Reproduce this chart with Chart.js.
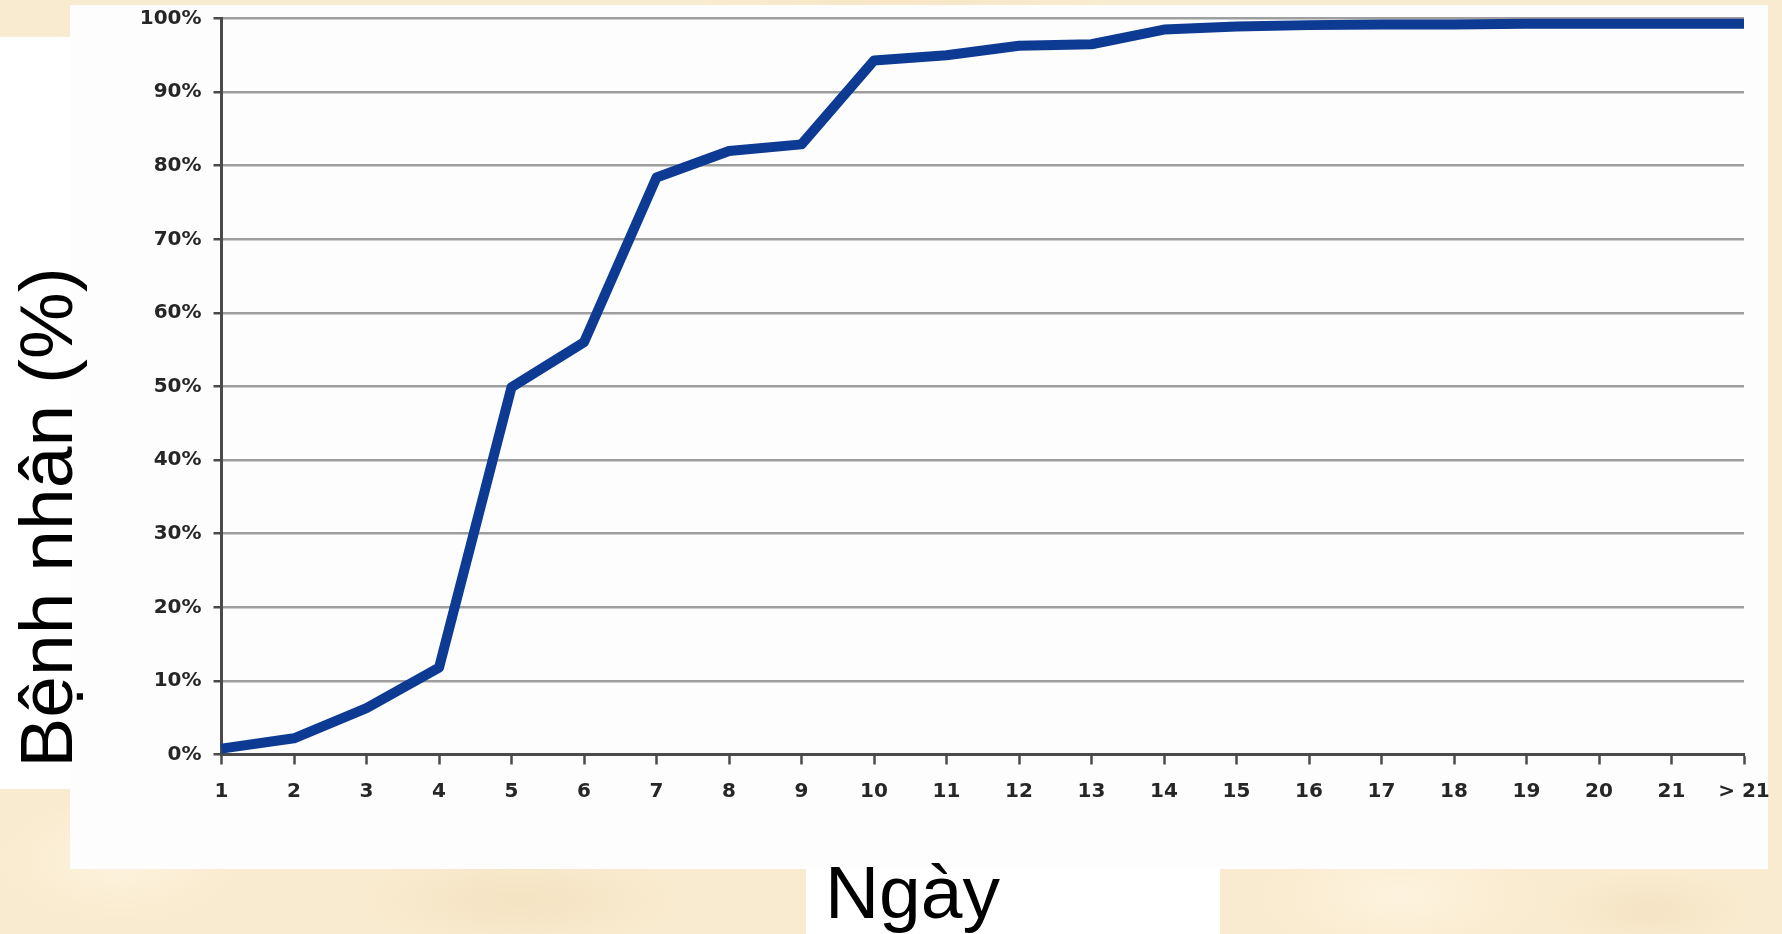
<!DOCTYPE html>
<html>
<head>
<meta charset="utf-8">
<script src="https://cdn.jsdelivr.net/npm/chart.js@4.4.1/dist/chart.umd.min.js"></script>
<style>
  html, body { margin: 0; padding: 0; }
  body {
    width: 1782px; height: 934px; overflow: hidden; position: relative;
    background-color: #f9ebcf;
    background-image:
      radial-gradient(ellipse 120px 60px at 120px 860px, rgba(255,246,228,0.7), rgba(255,246,228,0)),
      radial-gradient(ellipse 160px 50px at 520px 900px, rgba(240,222,186,0.6), rgba(240,222,186,0)),
      radial-gradient(ellipse 140px 60px at 1400px 895px, rgba(255,246,228,0.7), rgba(255,246,228,0)),
      radial-gradient(ellipse 100px 40px at 1650px 910px, rgba(242,224,190,0.6), rgba(242,224,190,0)),
      radial-gradient(ellipse 200px 8px at 900px 2px, rgba(244,226,192,0.6), rgba(244,226,192,0));
    font-family: "Liberation Sans", Arial, sans-serif;
  }
  .panel { position: absolute; background: #ffffff; }
  #mainPanel { left: 70px; top: 5px; width: 1698px; height: 864px; background: #fdfdfd; }
  #leftPanel { left: 0; top: 37px; width: 70px; height: 752px; }
  #bottomPanel { left: 806px; top: 869px; width: 414px; height: 65px; }
  .bigText {
    position: absolute; font-family: "Liberation Sans", Arial, sans-serif;
    font-size: 75px; line-height: 75px; height: 75px; color: #000; white-space: nowrap; text-align: center;
  }
  #yTitle { left: -254px; top: 479.5px; width: 600px; transform: rotate(-90deg); transform-origin: 50% 50%; }
  #xTitle { left: 812.5px; top: 854.5px; width: 200px; }
  #wrap { position: absolute; left: 0; top: 0; width: 1782px; height: 934px; }
</style>
</head>
<body>
<div class="panel" id="mainPanel"></div>
<div class="panel" id="leftPanel"></div>
<div class="panel" id="bottomPanel"></div>
<div class="bigText" id="yTitle">Bệnh nhân (%)</div>
<div class="bigText" id="xTitle">Ngày</div>
<div id="wrap"><canvas id="c" width="1782" height="934"></canvas></div>
<script>
// Categories (days)
const dayLabels = ['1','2','3','4','5','6','7','8','9','10','11','12','13','14','15','16','17','18','19','20','21','> 21'];
// Cumulative share of patients (%)
const patientPercent = [0.8, 2.2, 6.3, 11.8, 49.9, 56.0, 78.4, 82.0, 82.9, 94.3, 95.0, 96.3, 96.5, 98.5, 98.9, 99.1, 99.2, 99.2, 99.3, 99.3, 99.3, 99.3];
// Y tick values
const yTickValues = [0, 10, 20, 30, 40, 50, 60, 70, 80, 90, 100];

const tickFont = { family: "'DejaVu Sans', 'Liberation Sans', Arial, sans-serif", size: 20, weight: 'bold' };

new Chart(document.getElementById('c'), {
  type: 'line',
  data: {
    labels: dayLabels,
    datasets: [{
      data: patientPercent,
      borderColor: '#0d3a92',
      borderWidth: 10,
      pointRadius: 0,
      tension: 0,
      borderJoinStyle: 'round',
      fill: false,
      clip: false
    }]
  },
  options: {
    responsive: false,
    animation: false,
    events: [],
    layout: { padding: { left: 0, top: 18.5, right: 38, bottom: 0 } },
    plugins: { legend: { display: false }, tooltip: { enabled: false }, title: { display: false } },
    scales: {
      x: {
        type: 'category',
        offset: false,
        grid: { drawOnChartArea: false, drawTicks: true, tickLength: 10, tickColor: '#4a4a4a', tickWidth: 2.5 },
        border: { display: true, color: '#4a4a4a', width: 3 },
        ticks: { font: tickFont, color: '#262626', padding: 15, maxRotation: 0, autoSkip: false },
        afterFit: (scale) => { scale.height = 934 - 754.5; scale.paddingLeft = 0; scale.paddingRight = 0; }
      },
      y: {
        min: 0, max: 100,
        afterBuildTicks: (scale) => { scale.ticks = yTickValues.map(v => ({ value: v })); },
        grid: { color: '#9e9e9e', lineWidth: 2.5, tickLength: 8, tickColor: '#4a4a4a', tickWidth: 2.5 },
        border: { display: true, color: '#4a4a4a', width: 3 },
        ticks: { font: tickFont, color: '#262626', padding: 12, callback: (v) => v + '%' },
        afterFit: (scale) => { scale.width = 221.5; scale.paddingTop = 0; scale.paddingBottom = 0; }
      }
    }
  }
});
</script>
</body>
</html>
